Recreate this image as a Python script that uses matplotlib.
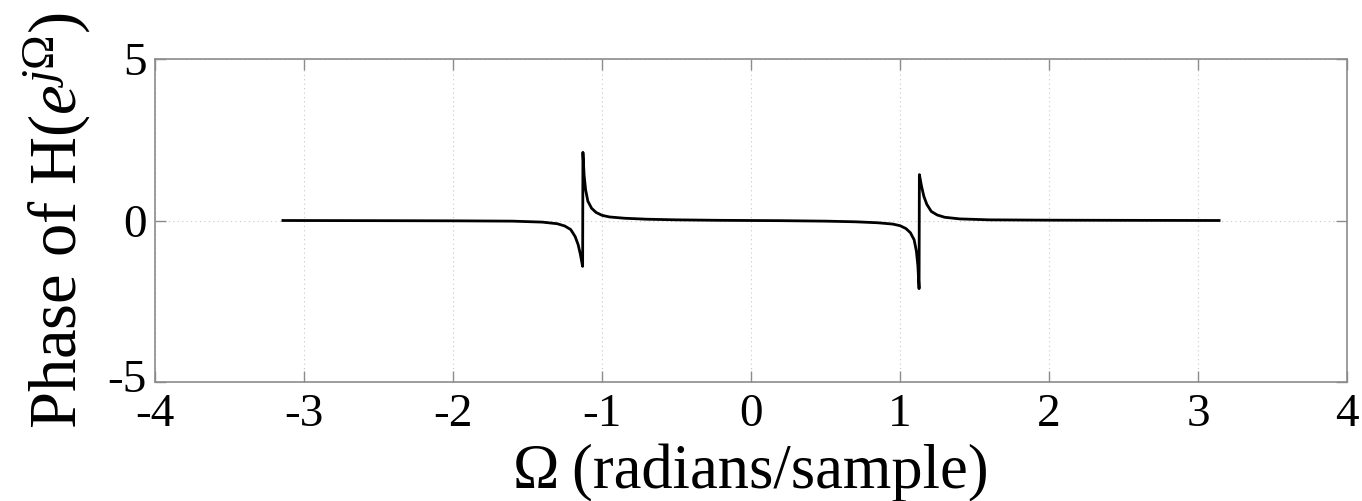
import matplotlib
matplotlib.use("Agg")
import matplotlib.pyplot as plt
import matplotlib.transforms as mtransforms

plt.rcParams['font.family'] = ['Liberation Serif', 'DejaVu Serif']
plt.rcParams['mathtext.fontset'] = 'custom'
plt.rcParams['mathtext.rm'] = 'Liberation Serif'
plt.rcParams['mathtext.it'] = 'Liberation Serif:italic'
plt.rcParams['axes.unicode_minus'] = False

# Phase response (radians/sample vs phase)
omega = [-3.1416, -2.5, -2.0, -1.6, -1.4, -1.3, -1.25, -1.21, -1.18, -1.16,
         -1.145, -1.135, -1.13, -1.128, -1.12, -1.11, -1.095, -1.07, -1.04,
         -1.0, -0.95, -0.85, -0.7, -0.5, -0.2, 0.0,
         0.2, 0.5, 0.7, 0.85, 0.95, 1.0, 1.04, 1.07, 1.095, 1.11, 1.12,
         1.128, 1.13, 1.135, 1.145, 1.16, 1.18, 1.21, 1.25, 1.3, 1.4, 1.6,
         2.0, 2.5, 3.1416]
phase = [0.0, -0.005, -0.01, -0.02, -0.05, -0.1, -0.17, -0.28, -0.5, -0.75,
         -1.05, -1.3, -1.42, 2.11, 1.4, 0.95, 0.6, 0.38, 0.25,
         0.16, 0.11, 0.07, 0.04, 0.02, 0.005, 0.0,
         -0.005, -0.02, -0.04, -0.07, -0.11, -0.16, -0.25, -0.38, -0.6, -0.95, -1.4,
         -2.11, 1.42, 1.3, 1.05, 0.75, 0.5, 0.28, 0.17, 0.1, 0.05, 0.02,
         0.01, 0.005, 0.0]

xticks = [-4, -3, -2, -1, 0, 1, 2, 3, 4]
yticks = [-5, 0, 5]

fig = plt.figure(figsize=(13.62, 5.01), dpi=100)
ax = fig.add_axes([155/1362, (501-382)/501, (1347-155)/1362, (382-59)/501])
ax.plot(omega, phase, color='black', linewidth=2.0)
ax.set_xlim(-4, 4)
ax.set_ylim(-5, 5)
ax.set_xticks(xticks)
ax.set_yticks(yticks)
ax.set_xticklabels([str(t) for t in xticks])
ax.set_yticklabels([str(t) for t in yticks])
ax.grid(True, linestyle=(0, (1, 3)), color='#c8c8c8', linewidth=0.8)
for s in ax.spines.values():
    s.set_color('#8c8c8c')
    s.set_linewidth(1.2)
ax.tick_params(direction='in', length=8, width=1, color='#8c8c8c',
               labelsize=34, top=True, right=True)
ax.tick_params(axis='x', pad=8)
ax.tick_params(axis='y', pad=6)

# lift the bottom y tick label slightly so it clears the "-4" label
lowest = ax.get_yticklabels()[0]
lowest.set_transform(lowest.get_transform() +
                     mtransforms.ScaledTranslation(0, 6/100, fig.dpi_scale_trans))

ax.set_xlabel('Ω\u2009(radians/sample)', fontsize=45)
ax.xaxis.set_label_coords(0.5, -0.19)
ax.set_ylabel(r'Phase of H($e^{j\Omega}$)', fontsize=48)
ax.yaxis.set_label_coords(-0.052, 0.5)
fig.savefig('out.png', dpi=100)
